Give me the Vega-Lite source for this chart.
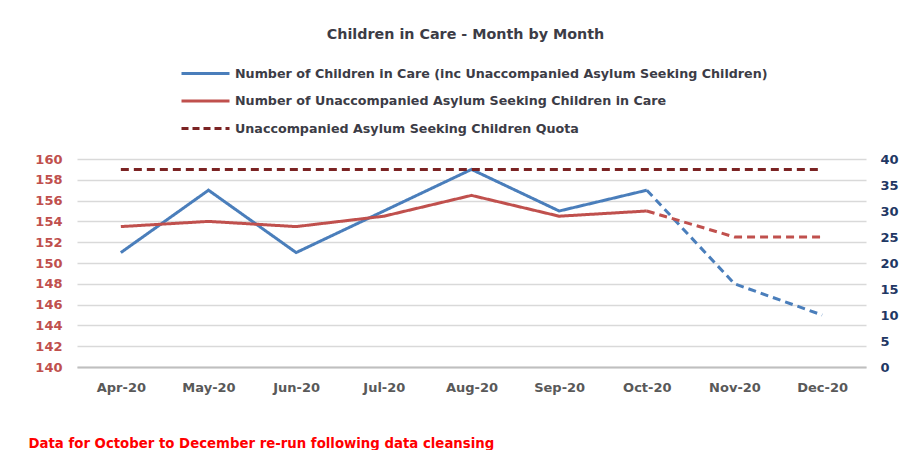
{
  "$schema": "https://vega.github.io/schema/vega-lite/v6.json",
  "width": 789,
  "height": 208,
  "autosize": {"type": "none"},
  "padding": {"left": 77, "top": 159, "right": 41, "bottom": 83},
  "background": "white",
  "config": {"view": {"stroke": null}, "font": "DejaVu Sans"},
  "title": {
    "text": "Children in Care - Month by Month",
    "fontSize": 14.3,
    "fontWeight": "bold",
    "color": "#3c3c46",
    "anchor": "middle",
    "frame": "group",
    "dx": -6,
    "offset": 24
  },
  "data": {
    "values": [
      {"month": "Apr-20", "series": "Number of Children in Care (inc Unaccompanied Asylum Seeking Children)", "axis": "left", "seg": "solid", "v": 151},
      {"month": "May-20", "series": "Number of Children in Care (inc Unaccompanied Asylum Seeking Children)", "axis": "left", "seg": "solid", "v": 157},
      {"month": "Jun-20", "series": "Number of Children in Care (inc Unaccompanied Asylum Seeking Children)", "axis": "left", "seg": "solid", "v": 151},
      {"month": "Jul-20", "series": "Number of Children in Care (inc Unaccompanied Asylum Seeking Children)", "axis": "left", "seg": "solid", "v": 155},
      {"month": "Aug-20", "series": "Number of Children in Care (inc Unaccompanied Asylum Seeking Children)", "axis": "left", "seg": "solid", "v": 159},
      {"month": "Sep-20", "series": "Number of Children in Care (inc Unaccompanied Asylum Seeking Children)", "axis": "left", "seg": "solid", "v": 155},
      {"month": "Oct-20", "series": "Number of Children in Care (inc Unaccompanied Asylum Seeking Children)", "axis": "left", "seg": "solid", "v": 157},
      {"month": "Oct-20", "series": "Number of Children in Care (inc Unaccompanied Asylum Seeking Children)", "axis": "left", "seg": "dashed", "v": 157},
      {"month": "Nov-20", "series": "Number of Children in Care (inc Unaccompanied Asylum Seeking Children)", "axis": "left", "seg": "dashed", "v": 148},
      {"month": "Dec-20", "series": "Number of Children in Care (inc Unaccompanied Asylum Seeking Children)", "axis": "left", "seg": "dashed", "v": 145},
      {"month": "Apr-20", "series": "Number of Unaccompanied Asylum Seeking Children in Care", "axis": "right", "seg": "solid", "v": 27},
      {"month": "May-20", "series": "Number of Unaccompanied Asylum Seeking Children in Care", "axis": "right", "seg": "solid", "v": 28},
      {"month": "Jun-20", "series": "Number of Unaccompanied Asylum Seeking Children in Care", "axis": "right", "seg": "solid", "v": 27},
      {"month": "Jul-20", "series": "Number of Unaccompanied Asylum Seeking Children in Care", "axis": "right", "seg": "solid", "v": 29},
      {"month": "Aug-20", "series": "Number of Unaccompanied Asylum Seeking Children in Care", "axis": "right", "seg": "solid", "v": 33},
      {"month": "Sep-20", "series": "Number of Unaccompanied Asylum Seeking Children in Care", "axis": "right", "seg": "solid", "v": 29},
      {"month": "Oct-20", "series": "Number of Unaccompanied Asylum Seeking Children in Care", "axis": "right", "seg": "solid", "v": 30},
      {"month": "Oct-20", "series": "Number of Unaccompanied Asylum Seeking Children in Care", "axis": "right", "seg": "dashed", "v": 30},
      {"month": "Nov-20", "series": "Number of Unaccompanied Asylum Seeking Children in Care", "axis": "right", "seg": "dashed", "v": 25},
      {"month": "Dec-20", "series": "Number of Unaccompanied Asylum Seeking Children in Care", "axis": "right", "seg": "dashed", "v": 25},
      {"month": "Apr-20", "series": "Unaccompanied Asylum Seeking Children Quota", "axis": "right", "seg": "dashed", "v": 38},
      {"month": "May-20", "series": "Unaccompanied Asylum Seeking Children Quota", "axis": "right", "seg": "dashed", "v": 38},
      {"month": "Jun-20", "series": "Unaccompanied Asylum Seeking Children Quota", "axis": "right", "seg": "dashed", "v": 38},
      {"month": "Jul-20", "series": "Unaccompanied Asylum Seeking Children Quota", "axis": "right", "seg": "dashed", "v": 38},
      {"month": "Aug-20", "series": "Unaccompanied Asylum Seeking Children Quota", "axis": "right", "seg": "dashed", "v": 38},
      {"month": "Sep-20", "series": "Unaccompanied Asylum Seeking Children Quota", "axis": "right", "seg": "dashed", "v": 38},
      {"month": "Oct-20", "series": "Unaccompanied Asylum Seeking Children Quota", "axis": "right", "seg": "dashed", "v": 38},
      {"month": "Nov-20", "series": "Unaccompanied Asylum Seeking Children Quota", "axis": "right", "seg": "dashed", "v": 38},
      {"month": "Dec-20", "series": "Unaccompanied Asylum Seeking Children Quota", "axis": "right", "seg": "dashed", "v": 38}
    ]
  },
  "encoding": {
    "x": {
      "field": "month",
      "type": "ordinal",
      "sort": ["Apr-20", "May-20", "Jun-20", "Jul-20", "Aug-20", "Sep-20", "Oct-20", "Nov-20", "Dec-20"],
      "scale": {"type": "point", "padding": 0.5},
      "axis": {
        "title": "Data for October to December re-run following data cleansing",
        "titleColor": "#ff0000",
        "titleFontSize": 13.3,
        "titleFontWeight": "bold",
        "titleAnchor": "start",
        "titleAlign": "left",
        "titleBaseline": "middle",
        "titleAngle": 0,
        "titleX": -49,
        "titleY": 76,
        "labelAngle": 0,
        "labelColor": "#595959",
        "labelFontSize": 13,
        "labelFontWeight": "bold",
        "labelPadding": 14,
        "ticks": false,
        "domain": true,
        "domainColor": "#bfbfbf",
        "domainWidth": 2,
        "grid": false
      }
    }
  },
  "layer": [
    {
      "transform": [{"filter": "datum.axis === 'left'"}],
      "mark": {"type": "line", "strokeWidth": 3},
      "encoding": {
        "y": {
          "field": "v",
          "type": "quantitative",
          "scale": {"domain": [140, 160], "nice": false, "zero": false},
          "axis": {
            "orient": "left",
            "title": null,
            "values": [140, 142, 144, 146, 148, 150, 152, 154, 156, 158, 160],
            "labelColor": "#c0504d",
            "labelFontSize": 13,
            "labelFontWeight": "bold",
            "labelPadding": 15,
            "ticks": false,
            "domain": false,
            "grid": true,
            "gridColor": "#d9d9d9",
            "gridWidth": 1.5
          }
        },
        "color": {
          "field": "series",
          "type": "nominal",
          "scale": {
            "domain": ["Number of Children in Care (inc Unaccompanied Asylum Seeking Children)", "Number of Unaccompanied Asylum Seeking Children in Care", "Unaccompanied Asylum Seeking Children Quota"],
            "range": ["#4a7ebb", "#c0504d", "#7b2323"]
          },
          "legend": {
            "orient": "none",
            "legendX": 121,
            "legendY": -93,
            "title": null,
            "padding": 0,
            "direction": "vertical",
            "rowPadding": 12.5,
            "symbolType": "M-4,0H4",
            "symbolSize": 144,
            "symbolStrokeWidth": 3,
            "symbolFillColor": "transparent",
            "labelOffset": 22,
            "labelLimit": 800,
            "labelFontSize": 12.7,
            "labelFontWeight": "bold",
            "labelColor": "#3c3c46",
            "encode": {
              "symbols": {
                "update": {
                  "strokeDash": [
                    {"test": "datum.value === 'Unaccompanied Asylum Seeking Children Quota'", "value": [7, 4]},
                    {"value": [1, 0]}
                  ]
                }
              }
            }
          }
        },
        "strokeDash": {
          "field": "seg",
          "type": "nominal",
          "scale": {"domain": ["solid", "dashed"], "range": [[1, 0], [8, 5]]},
          "legend": null
        }
      }
    },
    {
      "transform": [{"filter": "datum.axis === 'right'"}],
      "mark": {"type": "line", "strokeWidth": 3},
      "encoding": {
        "y": {
          "field": "v",
          "type": "quantitative",
          "scale": {"domain": [0, 40], "nice": false},
          "axis": {
            "orient": "right",
            "title": null,
            "values": [0, 5, 10, 15, 20, 25, 30, 35, 40],
            "labelColor": "#1f3864",
            "labelFontSize": 13,
            "labelFontWeight": "bold",
            "labelPadding": 14,
            "ticks": false,
            "domain": false,
            "grid": false
          }
        },
        "color": {
          "field": "series",
          "type": "nominal"
        },
        "strokeDash": {
          "field": "seg",
          "type": "nominal",
          "scale": {"domain": ["solid", "dashed"], "range": [[1, 0], [8, 5]]},
          "legend": null
        }
      }
    }
  ],
  "resolve": {"scale": {"y": "independent"}}
}
